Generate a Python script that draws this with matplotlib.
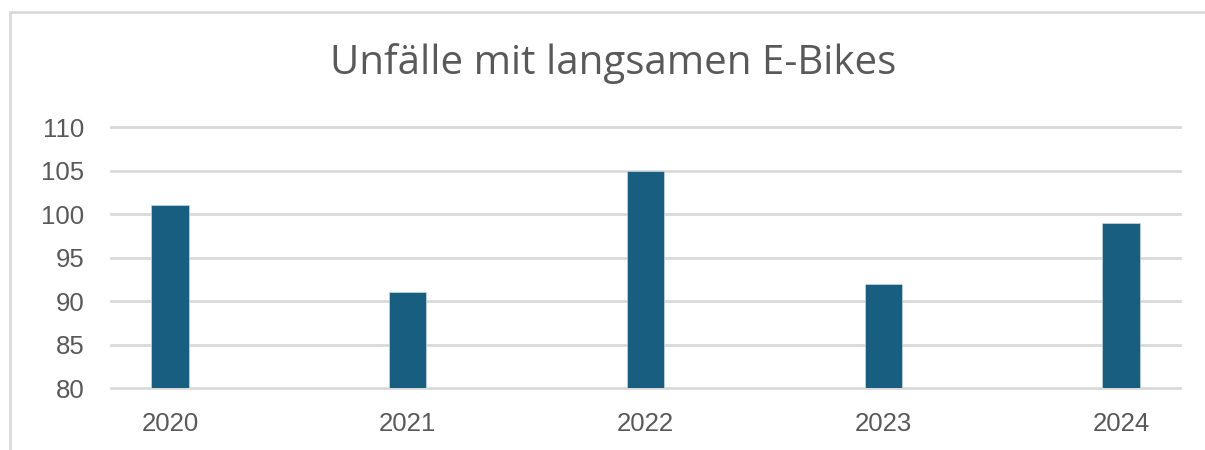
import matplotlib
matplotlib.use("Agg")
import matplotlib.pyplot as plt
from matplotlib.patches import Rectangle

years = ["2020", "2021", "2022", "2023", "2024"]
values = [101, 91, 105, 92, 99]
yticks = [80, 85, 90, 95, 100, 105, 110]
title = "Unfälle mit langsamen E-Bikes"

W, H = 1205, 450
fig = plt.figure(figsize=(W / 100, H / 100), dpi=100)
fig.patch.set_facecolor("white")

# outer frame
fig.add_artist(Rectangle((10 / W, -0.05), 1.2, (H - 12) / H + 0.05,
                         transform=fig.transFigure, fill=False,
                         edgecolor="#d9d9d9", linewidth=2))

ax = fig.add_axes([111 / W, 1 - 388 / H, (1180 - 111) / W, (388 - 127) / H])
x = list(range(len(years)))
ax.bar(x, [v - 80 for v in values], bottom=80, width=0.156,
       color="#175e80", edgecolor="#c8d8e2", linewidth=0.5, zorder=3)
ax.set_xlim(-0.248, len(years) - 1 + 0.248)
ax.set_ylim(80, 110)
ax.set_yticks(yticks)
ax.set_xticks(x)
ax.set_xticklabels(years)
ax.grid(axis="y", color="#d9d9d9", linewidth=2, zorder=0)
for gl in ax.get_ygridlines():
    gl.set_clip_on(False)
for s in ax.spines.values():
    s.set_visible(False)
ax.tick_params(length=0, labelsize=18.5, labelcolor="#595959")
ax.tick_params(axis="y", pad=19)
ax.tick_params(axis="x", pad=17)
for lab in ax.get_xticklabels() + ax.get_yticklabels():
    lab.set_fontfamily("Liberation Sans")

fig.text(613 / W, 1 - 64 / H, title, ha="center", va="center",
         fontsize=29, color="#595959", family="Open Sans")

fig.savefig("out.png", dpi=100)
